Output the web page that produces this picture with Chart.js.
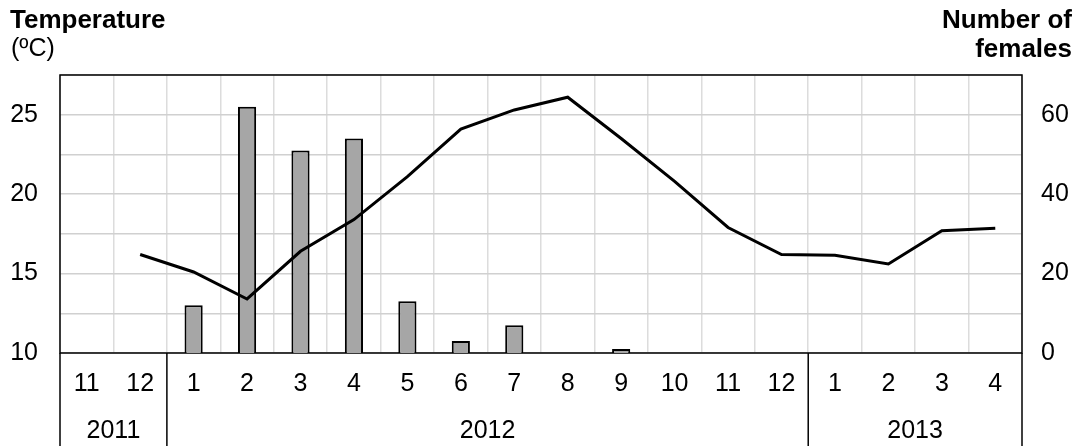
<!DOCTYPE html>
<html>
<head>
<meta charset="utf-8">
<script src="https://cdn.jsdelivr.net/npm/chart.js@4/dist/chart.umd.min.js"></script>
<style>
  html, body { margin: 0; padding: 0; background: #ffffff; }
  canvas { display: block; }
</style>
</head>
<body>
<canvas id="chart" width="1083" height="448"></canvas>
<script>
// Month of each observation (Nov 2011 – Apr 2013)
const months = ['11', '12', '1', '2', '3', '4', '5', '6', '7', '8', '9', '10', '11', '12', '1', '2', '3', '4'];
// Year row under the month labels
const yearLabels = ['2011', '2012', '2013'];
const yearSpans = [2, 12, 4];
// Mean monthly temperature (°C)
const temperature = [null, 16.2, 15.1, 13.4, 16.4, 18.4, 21.1, 24.1, 25.3, 26.1, 23.5, 20.8, 17.9, 16.2, 16.15, 15.6, 17.7, 17.85];
// Number of females recorded each month
const females = [null, null, 12, 62, 51, 54, 13, 3, 7, null, 1, null, null, null, null, null, null, null];
// Tick values shown on the two value axes
const tempTicks = [10, 15, 20, 25];
const femaleTicks = [0, 20, 40, 60];

const FONT = '"Liberation Sans", Arial, Helvetica, sans-serif';

const framePlugin = {
  id: 'frameAndYears',
  beforeDatasetsDraw(chart) {
    const { ctx, chartArea: a } = chart;
    ctx.save();
    ctx.strokeStyle = '#000000';
    ctx.lineWidth = 1.5;
    ctx.strokeRect(a.left, a.top, a.right - a.left, a.bottom - a.top);
    ctx.restore();
  },
  afterDraw(chart) {
    const { ctx, chartArea: a, scales } = chart;
    const x = scales.x;
    const step = (x.right - x.left) / months.length;
    const bottom = chart.height - 2;
    ctx.save();
    ctx.strokeStyle = '#000000';
    ctx.lineWidth = 1.5;
    // separators of the year groups, running through the label rows
    let idx = 0;
    const edges = [x.getPixelForTick(0) - step / 2];
    yearSpans.forEach(n => { idx += n; edges.push(x.getPixelForTick(idx - 1) + step / 2); });
    edges.forEach(px => {
      ctx.beginPath();
      ctx.moveTo(px, a.bottom);
      ctx.lineTo(px, bottom);
      ctx.stroke();
    });
    // year labels
    ctx.fillStyle = '#000000';
    ctx.font = '25px ' + FONT;
    ctx.textAlign = 'center';
    ctx.textBaseline = 'alphabetic';
    yearLabels.forEach((lbl, i) => {
      ctx.fillText(lbl, (edges[i] + edges[i + 1]) / 2, 438);
    });
    // axis titles
    ctx.font = 'bold 26px ' + FONT;
    ctx.textAlign = 'left';
    ctx.fillText('Temperature', 10, 28);
    ctx.font = '25px ' + FONT;
    ctx.fillText('(ºC)', 11, 56);
    ctx.font = 'bold 26px ' + FONT;
    ctx.textAlign = 'right';
    ctx.fillText('Number of', 1072, 28);
    ctx.fillText('females', 1072, 57);
    ctx.restore();
  }
};

new Chart(document.getElementById('chart'), {
  data: {
    labels: months,
    datasets: [
      {
        type: 'line',
        label: 'Temperature',
        data: temperature,
        yAxisID: 'y',
        borderColor: '#000000',
        borderWidth: 3,
        pointRadius: 0,
        tension: 0,
        fill: false,
        order: 0
      },
      {
        type: 'bar',
        label: 'Number of females',
        data: females,
        yAxisID: 'y1',
        backgroundColor: '#a6a6a6',
        borderColor: '#000000',
        borderWidth: 2,
        barPercentage: 0.34,
        categoryPercentage: 1,
        order: 1
      }
    ]
  },
  options: {
    responsive: false,
    animation: false,
    devicePixelRatio: 1,
    layout: { padding: { top: 75, left: 0, right: 0, bottom: 0 } },
    plugins: {
      legend: { display: false },
      tooltip: { enabled: false }
    },
    scales: {
      x: {
        type: 'category',
        offset: true,
        border: { display: false },
        grid: { offset: true, color: '#dcdcdc', lineWidth: 1.5, drawTicks: false },
        ticks: {
          color: '#000000',
          font: { family: FONT, size: 25 },
          padding: 16,
          maxRotation: 0,
          autoSkip: false
        },
        afterFit(scale) { scale.height = 95; }
      },
      y: {
        position: 'left',
        min: 10,
        max: 27.5,
        border: { display: false },
        grid: { color: '#d0d0d0', lineWidth: 1.5, drawTicks: false },
        ticks: {
          stepSize: 2.5,
          autoSkip: false,
          color: '#000000',
          font: { family: FONT, size: 25 },
          padding: 22,
          callback: v => (tempTicks.includes(v) ? String(v) : '')
        },
        afterFit(scale) { scale.width = 60; }
      },
      y1: {
        position: 'right',
        min: 0,
        max: 70,
        border: { display: false },
        grid: { display: false, drawTicks: false },
        ticks: {
          stepSize: 10,
          autoSkip: false,
          color: '#000000',
          font: { family: FONT, size: 25 },
          padding: 19,
          callback: v => (femaleTicks.includes(v) ? String(v) : '')
        },
        afterFit(scale) { scale.width = 61; }
      }
    }
  },
  plugins: [framePlugin]
});
</script>
</body>
</html>
